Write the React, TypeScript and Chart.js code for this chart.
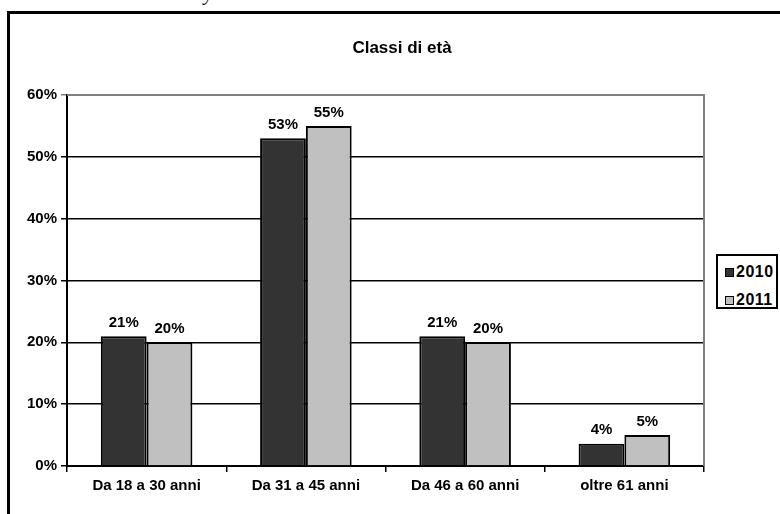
import React, { useEffect, useRef } from "react";
import { Chart, registerables } from "chart.js";

Chart.register(...registerables);

// Age brackets and share of respondents per year (%)
const categories = ["Da 18 a 30 anni", "Da 31 a 45 anni", "Da 46 a 60 anni", "oltre 61 anni"];
const seriesLabels = ["2010", "2011"];
const values2010 = [21, 53, 21, 3.6];
const values2011 = [20, 55, 20, 5];
const seriesColors = ["#333333", "#c0c0c0"];
const chartTitle = "Classi di età";
const yMin = 0;
const yMax = 60;
const yStep = 10;

const FONT = "'Liberation Sans', Arial, sans-serif";

const titlePlugin = {
  id: "centredTitle",
  afterDraw(chart: any) {
    const ctx = chart.ctx;
    ctx.save();
    ctx.font = `bold 17px ${FONT}`;
    ctx.fillStyle = "#000";
    ctx.textAlign = "center";
    ctx.textBaseline = "middle";
    ctx.fillText(chartTitle, 402, 48);
    ctx.restore();
  },
};

const valueLabelPlugin = {
  id: "valueLabels",
  afterDatasetsDraw(chart: any) {
    const ctx = chart.ctx;
    ctx.save();
    ctx.font = `bold 15px ${FONT}`;
    ctx.fillStyle = "#000";
    ctx.textAlign = "center";
    ctx.textBaseline = "bottom";
    chart.data.datasets.forEach((ds: any, i: number) => {
      const meta = chart.getDatasetMeta(i);
      meta.data.forEach((el: any, j: number) => {
        const v = ds.data[j] as number;
        ctx.fillText(`${Math.round(v)}%`, el.x, el.y - 6);
      });
    });
    ctx.restore();
  },
};

const plotFramePlugin = {
  id: "plotFrame",
  afterDraw(chart: any) {
    const { ctx, chartArea } = chart;
    ctx.save();
    ctx.strokeStyle = "#808080";
    ctx.lineWidth = 2;
    ctx.beginPath();
    ctx.moveTo(chartArea.left, chartArea.top);
    ctx.lineTo(chartArea.right, chartArea.top);
    ctx.lineTo(chartArea.right, chartArea.bottom);
    ctx.stroke();
    ctx.restore();
  },
};

export default function App() {
  const canvasRef = useRef<HTMLCanvasElement | null>(null);

  useEffect(() => {
    if (!canvasRef.current) return;
    const chart = new Chart(canvasRef.current, {
      type: "bar",
      data: {
        labels: categories,
        datasets: [
          {
            label: seriesLabels[0],
            data: values2010,
            backgroundColor: seriesColors[0],
            borderColor: "#000",
            borderWidth: 2,
            borderSkipped: "bottom",
            categoryPercentage: 0.575,
            barPercentage: 1,
          },
          {
            label: seriesLabels[1],
            data: values2011,
            backgroundColor: seriesColors[1],
            borderColor: "#000",
            borderWidth: 2,
            borderSkipped: "bottom",
            categoryPercentage: 0.575,
            barPercentage: 1,
          },
        ],
      },
      options: {
        animation: false,
        responsive: false,
        devicePixelRatio: 1,
        layout: { padding: { left: 12, right: 76, top: 95, bottom: 0 } },
        plugins: {
          legend: { display: false },
          title: { display: false },
          tooltip: { enabled: false },
        },
        scales: {
          x: {
            grid: {
              display: true,
              drawOnChartArea: false,
              drawTicks: true,
              tickLength: 6,
              color: "#000",
              lineWidth: 1.5,
              offset: true,
            },
            border: { display: true, color: "#000", width: 2 },
            ticks: {
              color: "#000",
              font: { family: FONT, size: 15, weight: "bold" },
              padding: 5,
              maxRotation: 0,
            },
            afterFit(scale: any) {
              scale.height = 48;
            },
          },
          y: {
            min: yMin,
            max: yMax,
            grid: {
              color: (c: any) => (c.tick && c.tick.value === yMax ? "#808080" : "#000"),
              lineWidth: 1.5,
              drawTicks: true,
              tickLength: 6,
            },
            border: { display: true, color: "#000", width: 2 },
            ticks: {
              stepSize: yStep,
              color: "#000",
              font: { family: FONT, size: 15, weight: "bold" },
              padding: 4,
              callback: (v: any) => `${v}%`,
            },
            afterFit(scale: any) {
              scale.width = 55;
            },
          },
        },
      },
      plugins: [plotFramePlugin, valueLabelPlugin, titlePlugin],
    });
    return () => chart.destroy();
  }, []);

  const font = `bold 16px ${FONT}`;

  return (
    <div
      style={{
        position: "fixed",
        left: 0,
        top: 0,
        width: 780,
        height: 514,
        overflow: "hidden",
        background: "#fff",
      }}
    >
      <div
        style={{
          position: "absolute",
          left: 204,
          top: -17,
          fontFamily: "'Liberation Serif', 'Times New Roman', serif",
          fontStyle: "italic",
          fontSize: 20,
          lineHeight: "20px",
          color: "#000",
        }}
      >
        y
      </div>
      <div
        style={{
          position: "absolute",
          left: 7,
          top: 11,
          width: 900,
          height: 700,
          borderLeft: "3px solid #000",
          borderTop: "3px solid #000",
          boxSizing: "border-box",
        }}
      />
      <canvas
        ref={canvasRef}
        width={780}
        height={514}
        style={{ position: "absolute", left: 0, top: 0, width: 780, height: 514 }}
      />
      <div
        style={{
          position: "absolute",
          left: 716,
          top: 254,
          width: 62,
          height: 55,
          border: "2px solid #000",
          boxSizing: "border-box",
          background: "#fff",
          font,
          letterSpacing: "0.5px",
          color: "#000",
        }}
      >
        {seriesLabels.map((lab, i) => (
          <div
            key={lab}
            style={{
              position: "absolute",
              left: 7,
              top: i === 0 ? 8 : 36,
              height: 16,
              display: "flex",
              alignItems: "center",
              whiteSpace: "nowrap",
            }}
          >
            <span
              style={{
                display: "inline-block",
                width: 7,
                height: 7,
                border: "1px solid #000",
                background: seriesColors[i],
                marginRight: 2,
              }}
            />
            <span>{lab}</span>
          </div>
        ))}
      </div>
    </div>
  );
}
